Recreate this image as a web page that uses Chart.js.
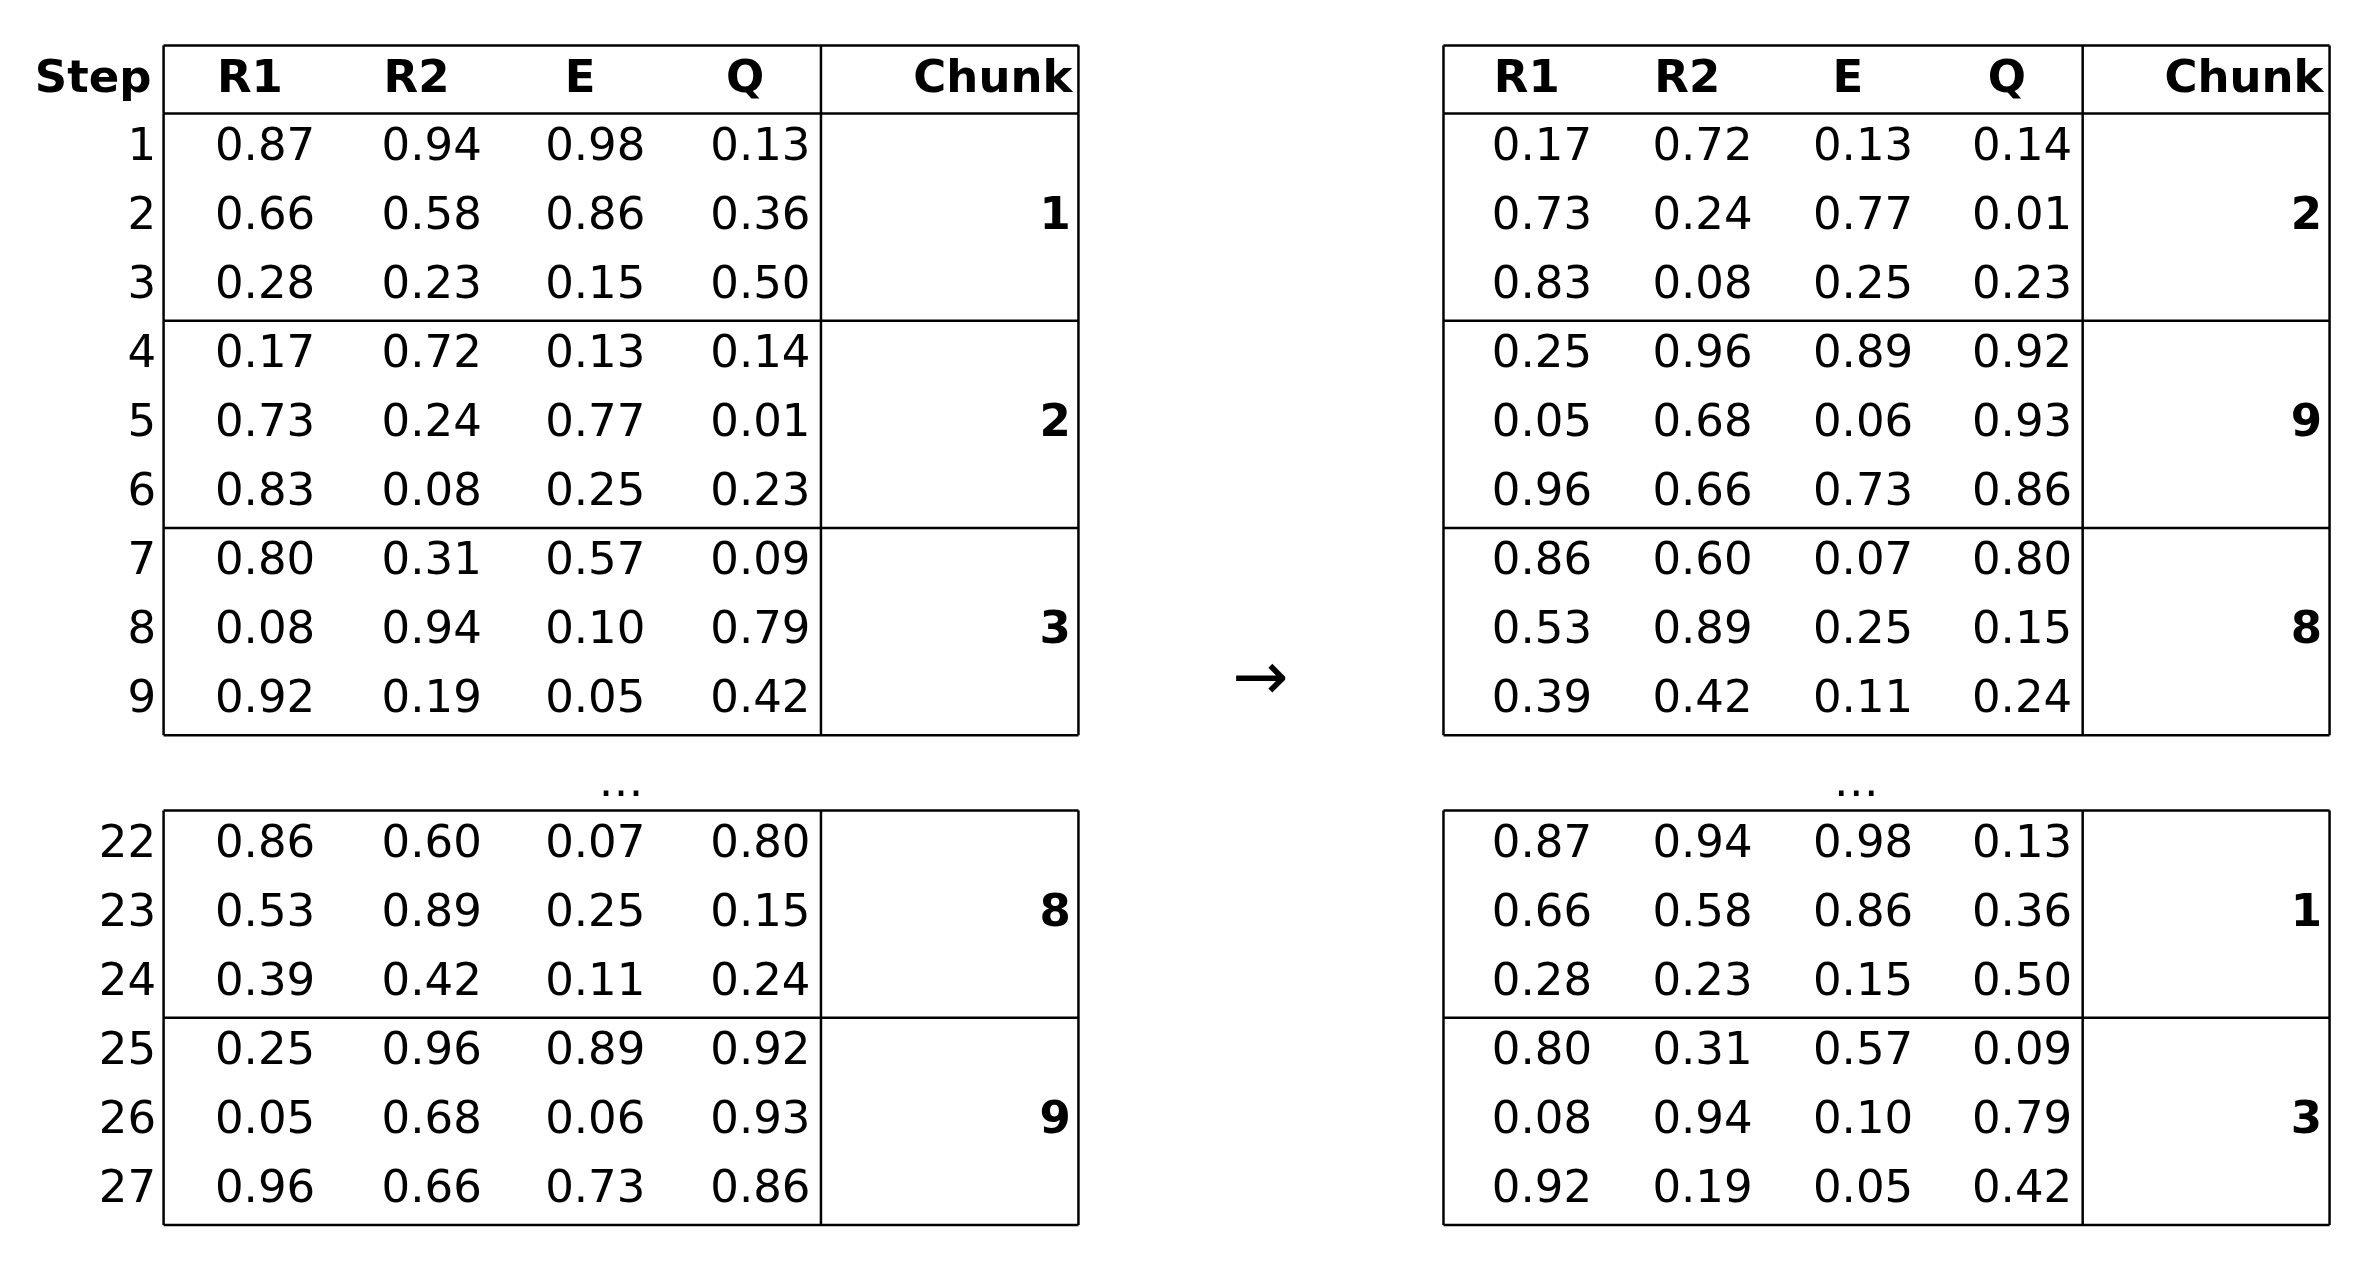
<!DOCTYPE html>
<html lang="en">
<head>
<meta charset="UTF-8">
<title>Chunk shuffle</title>
<script src="https://cdn.jsdelivr.net/npm/chart.js"></script>
<style>body{margin:0;background:#fff}</style>
</head>
<body>
<canvas id="tbl" width="2375" height="1277"></canvas>
<script>
// data
const columns = ['R1', 'R2', 'E', 'Q'];
const chunk1 = [[0.87, 0.94, 0.98, 0.13], [0.66, 0.58, 0.86, 0.36], [0.28, 0.23, 0.15, 0.50]];
const chunk2 = [[0.17, 0.72, 0.13, 0.14], [0.73, 0.24, 0.77, 0.01], [0.83, 0.08, 0.25, 0.23]];
const chunk3 = [[0.80, 0.31, 0.57, 0.09], [0.08, 0.94, 0.10, 0.79], [0.92, 0.19, 0.05, 0.42]];
const chunk8 = [[0.86, 0.60, 0.07, 0.80], [0.53, 0.89, 0.25, 0.15], [0.39, 0.42, 0.11, 0.24]];
const chunk9 = [[0.25, 0.96, 0.89, 0.92], [0.05, 0.68, 0.06, 0.93], [0.96, 0.66, 0.73, 0.86]];
const chunks = {1: chunk1, 2: chunk2, 3: chunk3, 8: chunk8, 9: chunk9};
const steps = [1, 2, 3, 4, 5, 6, 7, 8, 9, 22, 23, 24, 25, 26, 27];
const leftOrder = [[1, 2, 3], [8, 9]];
const rightOrder = [[2, 9, 8], [1, 3]];

// layout in picture units (x 0..1568, y 0..843)
const rowH = 45.6;
const blockTop = [75, 535];
const tables = [
  {order: leftOrder, x0: 108, colX: [175, 285, 393, 502], vline: 542, x1: 712, steps: true},
  {order: rightOrder, x0: 953, colX: [1018, 1124, 1230, 1335], vline: 1375, x1: 1538, steps: false}
];

const cells = [];
tables.forEach((t, ti) => {
  let s = 0;
  t.order.forEach((blk, bi) => {
    blk.forEach((c, ci) => {
      chunks[c].forEach((row, ri) => {
        const y = blockTop[bi] + (ci * 3 + ri + 0.5) * rowH;
        row.forEach((v, k) => cells.push({x: t.colX[k], y: y, text: v.toFixed(2)}));
        if (t.steps) cells.push({x: 103, y: y, text: String(steps[s]), align: 'right'});
        s++;
      });
      cells.push({x: t.x1 - 5, y: blockTop[bi] + (ci * 3 + 1.5) * rowH, text: String(c), align: 'right', bold: true});
    });
  });
});

const tablePlugin = {
  id: 'tablePlugin',
  afterDatasetsDraw(chart) {
    const ctx = chart.ctx, xs = chart.scales.x, ys = chart.scales.y;
    const px = v => xs.getPixelForValue(v), py = v => ys.getPixelForValue(v);
    const k = px(1) - px(0);
    ctx.save();
    ctx.strokeStyle = '#000';
    ctx.lineWidth = 2.5;
    const line = (a, b, c, d) => { ctx.beginPath(); ctx.moveTo(px(a), py(b)); ctx.lineTo(px(c), py(d)); ctx.stroke(); };
    tables.forEach(t => {
      // header box
      line(t.x0, 30, t.x1, 30);
      line(t.x0, 30, t.x0, 75);
      line(t.vline, 30, t.vline, 75);
      line(t.x1, 30, t.x1, 75);
      t.order.forEach((blk, bi) => {
        const top = blockTop[bi], bot = top + blk.length * 3 * rowH;
        for (let i = 0; i <= blk.length; i++) line(t.x0, top + i * 3 * rowH, t.x1, top + i * 3 * rowH);
        line(t.x0, top, t.x0, bot);
        line(t.vline, top, t.vline, bot);
        line(t.x1, top, t.x1, bot);
      });
      ctx.fillStyle = '#000';
      ctx.textBaseline = 'middle';
      ctx.font = 'bold ' + Math.round(30 * k) + 'px "DejaVu Sans"';
      ctx.textAlign = 'center';
      columns.forEach((c, i) => ctx.fillText(c, px(t.colX[i] - 10), py(53)));
      ctx.textAlign = 'right';
      ctx.fillText('Chunk', px(t.x1 - 4), py(53));
      if (t.steps) ctx.fillText('Step', px(100), py(53));
      ctx.font = Math.round(30 * k) + 'px "DejaVu Sans"';
      ctx.textAlign = 'center';
      ctx.fillText('…', px((t.x0 + t.x1) / 2 + (t.steps ? 0 : -20)), py(518));
    });
    cells.forEach(c => {
      ctx.font = (c.bold ? 'bold ' : '') + Math.round(30 * k) + 'px "DejaVu Sans"';
      ctx.textAlign = c.align || 'center';
      ctx.fillText(c.text, px(c.x), py(c.y));
    });
    ctx.font = Math.round(44 * k) + 'px "DejaVu Sans"';
    ctx.textAlign = 'center';
    ctx.fillText('→', px(832), py(450));
    ctx.restore();
  }
};

new Chart(document.getElementById('tbl'), {
  type: 'scatter',
  data: {datasets: [{data: cells.map(c => ({x: c.x, y: c.y})), pointRadius: 0}]},
  options: {
    responsive: false,
    devicePixelRatio: 1,
    animation: false,
    layout: {padding: 0},
    plugins: {legend: {display: false}, tooltip: {enabled: false}},
    scales: {
      x: {type: 'linear', min: 0, max: 1568, display: false},
      y: {type: 'linear', min: 0, max: 843, reverse: true, display: false}
    }
  },
  plugins: [tablePlugin]
});
</script>
</body>
</html>
